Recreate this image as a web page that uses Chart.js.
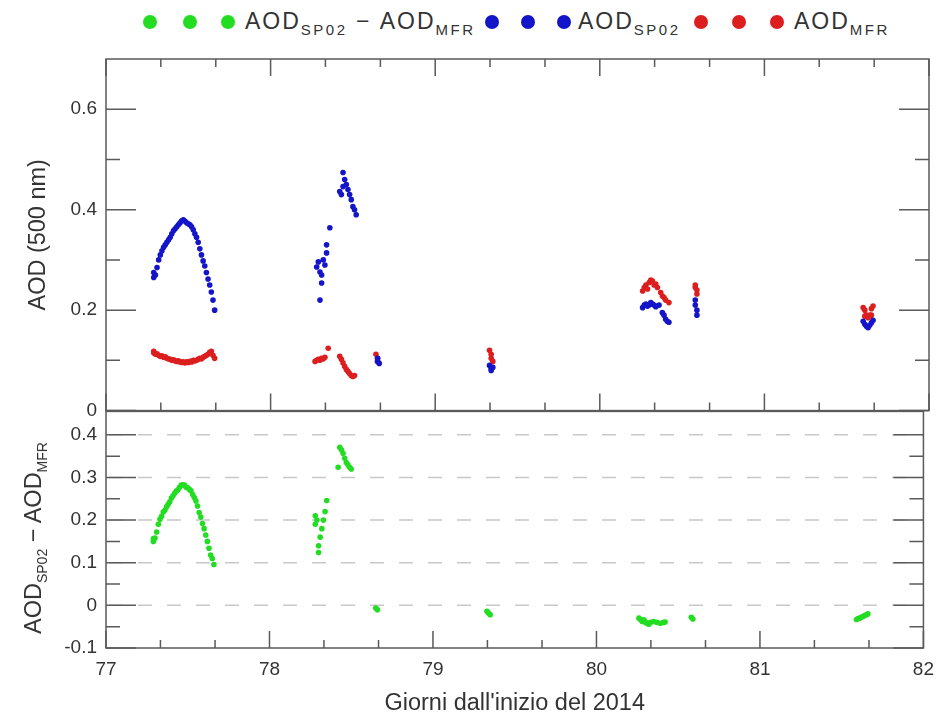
<!DOCTYPE html>
<html>
<head>
<meta charset="utf-8">
<script src="https://cdn.jsdelivr.net/npm/chart.js@4.4.0/dist/chart.umd.min.js"></script>
<style>
  body { margin: 0; background: #fff; font-family: "Liberation Sans", Arial, sans-serif; }
  #wrap { position: relative; width: 944px; height: 722px; overflow: hidden; }
  canvas { position: absolute; left: 0; }
  .dot { position: absolute; width: 14px; height: 14px; border-radius: 50%; margin: -7px 0 0 -7px; }
  .leg { position: absolute; font-size: 23px; letter-spacing: 2px; color: #333; white-space: nowrap; line-height: 23px; }
  .leg sub { font-size: 15px; letter-spacing: 2.5px; vertical-align: -6px; }
  #ytitle2 { position: absolute; left: 35px; top: 538px; transform: translate(-50%, -50%) rotate(-90deg);
    font-size: 23.5px; color: #333; white-space: nowrap; }
  #ytitle2 sub { font-size: 14px; vertical-align: -6px; }
</style>
</head>
<body>
<div id="wrap">
  <div class="dot" style="left:150px;top:22px;background:#22dd22"></div>
  <div class="dot" style="left:190px;top:22px;background:#22dd22"></div>
  <div class="dot" style="left:228px;top:22px;background:#22dd22"></div>
  <div class="leg" style="left:245px;top:10px">AOD<sub>SP02</sub>&nbsp;−&nbsp;AOD<sub>MFR</sub></div>
  <div class="dot" style="left:492px;top:22px;background:#1414c8"></div>
  <div class="dot" style="left:528px;top:22px;background:#1414c8"></div>
  <div class="dot" style="left:564px;top:22px;background:#1414c8"></div>
  <div class="leg" style="left:578px;top:10px">AOD<sub>SP02</sub></div>
  <div class="dot" style="left:701px;top:22px;background:#dc1e1e"></div>
  <div class="dot" style="left:739px;top:22px;background:#dc1e1e"></div>
  <div class="dot" style="left:777px;top:22px;background:#dc1e1e"></div>
  <div class="leg" style="left:794px;top:10px">AOD<sub>MFR</sub></div>

  <canvas id="top" width="944" height="431" style="top:0"></canvas>
  <canvas id="bottom" width="944" height="331" style="top:391px"></canvas>
  <div id="ytitle2">AOD<sub>SP02</sub> − AOD<sub>MFR</sub></div>
</div>
<script>
// axis ticks
const xTicks = [77, 78, 79, 80, 81, 82];
const xMinorTicks = [77.333, 77.667, 78.333, 78.667, 79.333, 79.667, 80.333, 80.667, 81.333, 81.667];
const topTicks = [0, 0.2, 0.4, 0.6];
const topTickLabels = ["0", "0.2", "0.4", "0.6"];
const topMinorTicks = [0.1, 0.3, 0.5];
const bottomTicks = [-0.1, 0, 0.1, 0.2, 0.3, 0.4];
const bottomTickLabels = ["-0.1", "0", "0.1", "0.2", "0.3", "0.4"];
const bottomMinorTicks = [-0.05, 0.05, 0.15, 0.25, 0.35];

// AOD SP02 (blue)
const sp02Days = [
  77.29, 77.29, 77.30, 77.31, 77.32, 77.33, 77.34, 77.35, 77.36, 77.37, 77.38, 77.39, 77.40,
  77.41, 77.42, 77.43, 77.44, 77.45, 77.46, 77.47, 77.48, 77.49, 77.50, 77.51, 77.52, 77.53,
  77.54, 77.55, 77.56, 77.57, 77.58, 77.59, 77.60, 77.61, 77.62, 77.63, 77.64, 77.65, 77.66,
  78.28, 78.29, 78.30, 78.30, 78.31, 78.31, 78.32, 78.33, 78.34, 78.34, 78.36,
  78.42, 78.43, 78.44, 78.44, 78.45, 78.46, 78.47, 78.48, 78.49, 78.50, 78.51, 78.52,
  78.65, 78.65, 78.66,
  79.33, 79.34, 79.34, 79.35,
  80.26, 80.27, 80.28, 80.29, 80.30, 80.31, 80.32, 80.33, 80.34, 80.36, 80.38, 80.39, 80.40, 80.41, 80.42,
  80.58, 80.58, 80.59, 80.59,
  81.60, 81.61, 81.62, 81.63, 81.64, 81.65, 81.66
];
const sp02Aod = [
  0.265, 0.275, 0.27, 0.285, 0.30, 0.31, 0.318, 0.325, 0.33, 0.335, 0.34, 0.345, 0.352,
  0.358, 0.362, 0.366, 0.37, 0.374, 0.378, 0.38, 0.377, 0.374, 0.372, 0.37, 0.366, 0.36,
  0.352, 0.345, 0.335, 0.322, 0.31, 0.298, 0.288, 0.275, 0.262, 0.25, 0.236, 0.22, 0.2,
  0.286, 0.296, 0.22, 0.276, 0.254, 0.27, 0.30, 0.29, 0.314, 0.33, 0.364,
  0.436, 0.43, 0.474, 0.446, 0.46, 0.45, 0.44, 0.43, 0.42, 0.406, 0.40, 0.39,
  0.104, 0.098, 0.094,
  0.09, 0.084, 0.08, 0.086,
  0.205, 0.21, 0.212, 0.208, 0.21, 0.215, 0.212, 0.21, 0.207, 0.21, 0.195, 0.19, 0.182, 0.178, 0.176,
  0.22, 0.21, 0.2, 0.19,
  0.178, 0.172, 0.168, 0.165, 0.17, 0.175, 0.18
];

// AOD MFR (red)
const mfrDays = [
  77.29, 77.29, 77.30, 77.31, 77.32, 77.33, 77.34, 77.35, 77.36, 77.37, 77.38, 77.39, 77.40,
  77.41, 77.42, 77.43, 77.44, 77.45, 77.46, 77.47, 77.48, 77.49, 77.50, 77.51, 77.52, 77.53,
  77.54, 77.55, 77.56, 77.57, 77.58, 77.59, 77.60, 77.61, 77.62, 77.63, 77.64, 77.65, 77.66,
  78.27, 78.28, 78.29, 78.30, 78.31, 78.32, 78.33, 78.35,
  78.42, 78.43, 78.44, 78.45, 78.46, 78.47, 78.48, 78.49, 78.50, 78.51,
  78.64, 78.65, 78.65,
  79.33, 79.34, 79.34, 79.35,
  80.26, 80.27, 80.28, 80.29, 80.30, 80.31, 80.32, 80.33, 80.34, 80.35, 80.37, 80.38, 80.39, 80.40, 80.42,
  80.58, 80.58, 80.59, 80.59,
  81.60, 81.61, 81.61, 81.62, 81.63, 81.64, 81.65, 81.65, 81.66
];
const mfrAod = [
  0.115, 0.118, 0.112, 0.113, 0.11, 0.108, 0.109, 0.106, 0.107, 0.104, 0.103, 0.102, 0.1,
  0.101, 0.099, 0.098, 0.099, 0.097, 0.096, 0.097, 0.095, 0.097, 0.096, 0.098, 0.097, 0.1,
  0.099, 0.1, 0.102, 0.104, 0.103, 0.106, 0.108, 0.11, 0.112, 0.116, 0.118, 0.11, 0.104,
  0.098, 0.1, 0.102, 0.1, 0.104, 0.103, 0.106, 0.124,
  0.108, 0.102, 0.095, 0.088, 0.082, 0.078, 0.074, 0.07, 0.068, 0.07,
  0.112, 0.104, 0.098,
  0.12, 0.112, 0.104, 0.098,
  0.238, 0.245, 0.25, 0.242, 0.255, 0.26, 0.258, 0.25, 0.252, 0.245, 0.235, 0.228, 0.225, 0.22, 0.215,
  0.25, 0.245, 0.24, 0.232,
  0.205, 0.2, 0.188, 0.19, 0.185, 0.19, 0.203, 0.19, 0.208
];

// AOD SP02 - AOD MFR (green)
const diffDays = [
  77.29, 77.29, 77.30, 77.31, 77.32, 77.33, 77.34, 77.35, 77.36, 77.37, 77.38, 77.39, 77.40,
  77.41, 77.42, 77.43, 77.44, 77.45, 77.46, 77.47, 77.48, 77.49, 77.50, 77.51, 77.52, 77.53,
  77.54, 77.55, 77.56, 77.57, 77.58, 77.59, 77.60, 77.61, 77.62, 77.63, 77.64, 77.65, 77.66,
  78.28, 78.28, 78.29, 78.30, 78.30, 78.31, 78.32, 78.33, 78.34, 78.35,
  78.42, 78.43, 78.44, 78.45, 78.46, 78.47, 78.48, 78.49, 78.50,
  78.65, 78.66,
  79.33, 79.34, 79.35,
  80.26, 80.27, 80.28, 80.29, 80.30, 80.31, 80.32, 80.33, 80.35, 80.37, 80.39, 80.41, 80.42,
  80.58, 80.59,
  81.59, 81.60, 81.61, 81.62, 81.63, 81.64, 81.65, 81.66
];
const diffAod = [
  0.15, 0.157, 0.158, 0.172, 0.19, 0.202, 0.209, 0.219, 0.223, 0.231, 0.237, 0.243, 0.252,
  0.257, 0.263, 0.268, 0.271, 0.277, 0.282, 0.283, 0.282, 0.277, 0.276, 0.272, 0.269, 0.26,
  0.253, 0.245, 0.233, 0.218, 0.207, 0.192, 0.18, 0.165, 0.15, 0.134, 0.118, 0.11, 0.096,
  0.19, 0.21, 0.2, 0.124, 0.14, 0.16, 0.18, 0.2, 0.22, 0.246,
  0.324, 0.371, 0.365, 0.357, 0.345, 0.335, 0.33, 0.324, 0.32,
  -0.006, -0.01,
  -0.014, -0.018, -0.022,
  -0.03, -0.034, -0.038, -0.034, -0.04, -0.042, -0.044, -0.04, -0.038, -0.04, -0.042, -0.04, -0.039,
  -0.028, -0.032,
  -0.033, -0.031, -0.03, -0.028, -0.026, -0.024, -0.022, -0.02
];

const toPoints = (xs, ys) => xs.map((x, i) => ({ x: x, y: ys[i] }));

// frame, inward ticks and dashed grid lines like the original plot
const frameTicks = {
  id: "frameTicks",
  beforeDatasetsDraw(chart, args, opts) {
    const { ctx, chartArea: a } = chart;
    const y = chart.scales.y;
    if (!opts.dashed) return;
    ctx.save();
    ctx.strokeStyle = "#c8c8c8";
    ctx.lineWidth = 1.5;
    ctx.setLineDash([14, 15]);
    ctx.lineDashOffset = -3;
    opts.dashed.forEach((v) => {
      const py = y.getPixelForValue(v);
      ctx.beginPath();
      ctx.moveTo(a.left, py);
      ctx.lineTo(a.right, py);
      ctx.stroke();
    });
    ctx.restore();
  },
  afterDatasetsDraw(chart, args, opts) {
    const { ctx, chartArea: a } = chart;
    const x = chart.scales.x;
    const y = chart.scales.y;
    ctx.save();
    ctx.strokeStyle = "#5a5a5a";
    ctx.lineWidth = 1.5;
    ctx.beginPath();
    opts.yMajor.forEach((v) => {
      const py = y.getPixelForValue(v);
      ctx.moveTo(a.left, py); ctx.lineTo(a.left + 30, py);
      ctx.moveTo(a.right, py); ctx.lineTo(a.right - 30, py);
    });
    opts.yMinor.forEach((v) => {
      const py = y.getPixelForValue(v);
      ctx.moveTo(a.left, py); ctx.lineTo(a.left + 14, py);
      ctx.moveTo(a.right, py); ctx.lineTo(a.right - 14, py);
    });
    opts.xMajor.forEach((v) => {
      const px = x.getPixelForValue(v);
      ctx.moveTo(px, a.bottom); ctx.lineTo(px, a.bottom - 17);
      if (opts.topTicks) { ctx.moveTo(px, a.top); ctx.lineTo(px, a.top + 17); }
    });
    opts.xMinor.forEach((v) => {
      const px = x.getPixelForValue(v);
      ctx.moveTo(px, a.bottom); ctx.lineTo(px, a.bottom - 8);
      if (opts.topTicks) { ctx.moveTo(px, a.top); ctx.lineTo(px, a.top + 8); }
    });
    ctx.stroke();
    ctx.strokeRect(a.left, a.top, a.right - a.left, a.bottom - a.top);
    ctx.restore();
  }
};

const tickFont = { family: "'Liberation Sans', Arial, sans-serif", size: 19 };
const titleFont = { family: "'Liberation Sans', Arial, sans-serif", size: 23.5 };

const pointDataset = (label, pts, color) => ({
  label: label,
  data: pts,
  backgroundColor: color,
  borderWidth: 0,
  pointRadius: 2.8,
  showLine: false
});

new Chart(document.getElementById("top").getContext("2d"), {
  type: "scatter",
  data: {
    datasets: [
      pointDataset("AOD SP02", toPoints(sp02Days, sp02Aod), "#1414c8"),
      pointDataset("AOD MFR", toPoints(mfrDays, mfrAod), "#dc1e1e")
    ]
  },
  options: {
    responsive: false,
    animation: false,
    layout: { padding: { top: 59, right: 15, bottom: 0, left: 0 } },
    plugins: {
      legend: { display: false },
      tooltip: { enabled: false },
      frameTicks: { yMajor: topTicks, yMinor: topMinorTicks, xMajor: xTicks, xMinor: xMinorTicks, topTicks: true }
    },
    scales: {
      x: { type: "linear", min: 77, max: 82, display: false },
      y: {
        min: 0,
        max: 0.7,
        afterFit: (s) => { s.width = 106; },
        afterBuildTicks: (s) => { s.ticks = topTicks.map((v) => ({ value: v })); },
        grid: { display: false, drawTicks: false },
        border: { display: false },
        ticks: {
          font: tickFont,
          color: "#333",
          padding: 9,
          callback: (v) => topTickLabels[topTicks.indexOf(v)]
        },
        title: { display: true, text: "AOD (500 nm)", font: titleFont, color: "#333", padding: { top: 24, bottom: 0 } }
      }
    }
  },
  plugins: [frameTicks]
});

new Chart(document.getElementById("bottom").getContext("2d"), {
  type: "scatter",
  data: {
    datasets: [
      pointDataset("AOD SP02 - AOD MFR", toPoints(diffDays, diffAod), "#22dd22")
    ]
  },
  options: {
    responsive: false,
    animation: false,
    layout: { padding: { top: 0, right: 15, bottom: 0, left: 0 } },
    plugins: {
      legend: { display: false },
      tooltip: { enabled: false },
      frameTicks: { yMajor: bottomTicks, yMinor: bottomMinorTicks, xMajor: xTicks, xMinor: xMinorTicks,
        topTicks: false, dashed: [0, 0.1, 0.2, 0.3, 0.4] }
    },
    scales: {
      x: {
        type: "linear",
        min: 77,
        max: 82,
        afterFit: (s) => { s.height = 74; },
        afterBuildTicks: (s) => { s.ticks = xTicks.map((v) => ({ value: v })); },
        grid: { display: false, drawTicks: false },
        border: { display: false },
        ticks: { font: tickFont, color: "#333", padding: 10, maxRotation: 0 },
        title: { display: true, text: "Giorni dall'inizio del 2014", font: titleFont, color: "#333", padding: { top: 0, bottom: 4 } }
      },
      y: {
        min: -0.1,
        max: 0.455,
        afterFit: (s) => { s.width = 106; },
        afterBuildTicks: (s) => { s.ticks = bottomTicks.map((v) => ({ value: v })); },
        grid: { display: false, drawTicks: false },
        border: { display: false },
        ticks: {
          font: tickFont,
          color: "#333",
          padding: 9,
          callback: (v) => bottomTickLabels[bottomTicks.indexOf(v)]
        }
      }
    }
  },
  plugins: [frameTicks]
});
</script>
</body>
</html>
